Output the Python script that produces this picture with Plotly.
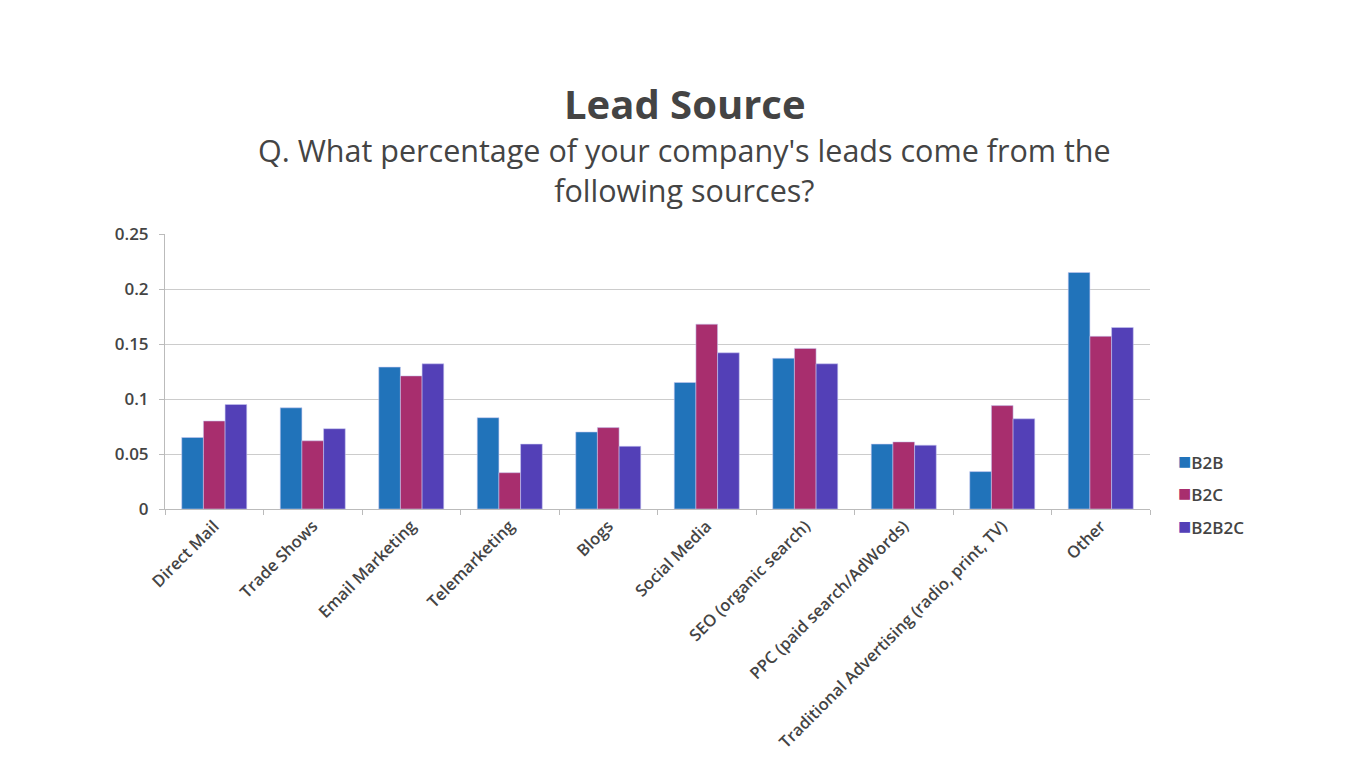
import plotly.graph_objects as go

categories = ["Direct Mail", "Trade Shows", "Email Marketing", "Telemarketing", "Blogs",
              "Social Media", "SEO (organic search)", "PPC (paid search/AdWords)",
              "Traditional Advertising (radio, print, TV)", "Other"]
b2b = [0.065, 0.092, 0.129, 0.083, 0.070, 0.115, 0.137, 0.059, 0.034, 0.215]
b2c = [0.080, 0.062, 0.121, 0.033, 0.074, 0.168, 0.146, 0.061, 0.094, 0.157]
b2b2c = [0.095, 0.073, 0.132, 0.059, 0.057, 0.142, 0.132, 0.058, 0.082, 0.165]
series_names = ["B2B", "B2C", "B2B2C"]
colors = ["#2173BA", "#A82E6E", "#5340B7"]
y_ticks = [0, 0.05, 0.1, 0.15, 0.2, 0.25]
y_tick_labels = ["0", "0.05", "0.1", "0.15", "0.2", "0.25"]

FONT = "'Open Sans', Lato, sans-serif"
TXT = "#444444"

# page offset (body margin) compensation
OFF = 8
W, H = 1348, 778
PL, PR, PT, PB = 165, 1150, 234, 509  # target plot box in page pixels
ml = PL - OFF
mt = PT - OFF
mr = (W + OFF) - PR
mb = (H + OFF) - PB

fig = go.Figure()
for i, (name, vals) in enumerate(zip(series_names, [b2b, b2c, b2b2c])):
    fig.add_trace(go.Bar(
        x=categories, y=vals, name=name,
        marker=dict(color=colors[i], line=dict(color="rgba(200,200,240,0.7)", width=0.8)),
    ))

fig.update_layout(
    width=W, height=H,
    paper_bgcolor="white", plot_bgcolor="white",
    margin=dict(l=ml, r=mr, t=mt, b=mb),
    barmode="group", bargap=0.34, bargroupgap=0,
    font=dict(family=FONT, color=TXT),
    showlegend=False,
)

plot_h = PB - PT
plot_w = PR - PL
def py(pix):
    return (PB - pix) / plot_h
def px(pix):
    return (pix - PL) / plot_w

fig.add_annotation(text="<b>Lead Source</b>", x=px(685), y=py(103), xref="paper", yref="paper",
                   showarrow=False, xanchor="center", yanchor="middle",
                   font=dict(size=40, color=TXT, family=FONT))
fig.add_annotation(text="Q. What percentage of your company's leads come from the<br>following sources?",
                   x=px(684), y=py(170), xref="paper", yref="paper",
                   showarrow=False, xanchor="center", yanchor="middle", align="center",
                   font=dict(size=30.5, color=TXT, family=FONT))

# legend drawn as text annotations
legend_y = [460, 492, 525]
for name, col, ly in zip(series_names, colors, legend_y):
    fig.add_annotation(text=f"<span style='color:{col};font-size:22px'>■</span>{name}",
                       x=px(1176), y=py(ly), xref="paper", yref="paper",
                       showarrow=False, xanchor="left", yanchor="middle",
                       font=dict(size=17, color=TXT, family=FONT, weight=600))

fig.update_xaxes(
    type="category", tickangle=-45, tickson="boundaries",
    ticks="outside", ticklen=5, tickcolor="#bbbbbb",
    showline=True, linecolor="#bbbbbb", linewidth=1,
    showgrid=False,
    tickfont=dict(size=16.5, color=TXT, family=FONT, weight=600),
)
fig.update_yaxes(
    range=[0, 0.25], tickvals=y_ticks, ticktext=y_tick_labels,
    ticks="outside", ticklen=5, tickcolor="#bbbbbb",
    showline=True, linecolor="#bbbbbb", linewidth=1,
    showgrid=True, gridcolor="#cccccc", gridwidth=1,
    zeroline=False, ticklabelstandoff=7,
    tickfont=dict(size=17, color=TXT, family=FONT, weight=600),
)

fig.write_html("out.html")
